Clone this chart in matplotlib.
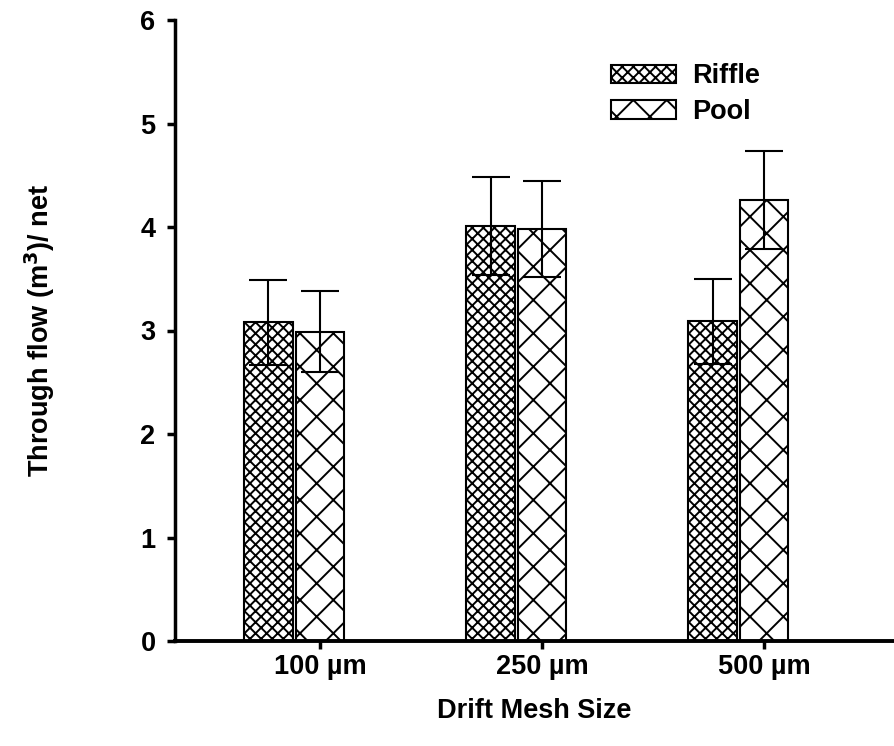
import numpy as np
import matplotlib
matplotlib.use('Agg')
import matplotlib.pyplot as plt

# data
mesh = ['100 µm', '250 µm', '500 µm']
riffle = [3.08, 4.01, 3.09]
riffle_err = [0.41, 0.47, 0.41]
pool = [2.99, 3.98, 4.26]
pool_err = [0.39, 0.46, 0.47]

plt.rcParams['font.family'] = ['Liberation Sans', 'DejaVu Sans']
plt.rcParams['font.weight'] = 'bold'
plt.rcParams['hatch.linewidth'] = 1.4

fig = plt.figure(figsize=(8.94, 7.46), dpi=100)
ax = fig.add_axes([175/894, 105/746, 1 - 175/894, (641 - 20)/746])

x = np.arange(len(mesh))
w = 0.217
off = 0.232

ax.bar(x - off, riffle, w, color='white', edgecolor='black', linewidth=1.5,
       hatch='xxx', label='Riffle', zorder=2)
ax.bar(x, pool, w, color='white', edgecolor='black', linewidth=1.5,
       hatch='x', label='Pool', zorder=2)
ax.errorbar(x - off, riffle, yerr=riffle_err, fmt='none', ecolor='black',
            elinewidth=1.5, capsize=13.5, capthick=1.5, zorder=3)
ax.errorbar(x, pool, yerr=pool_err, fmt='none', ecolor='black',
            elinewidth=1.5, capsize=13.5, capthick=1.5, zorder=3)

ax.set_xlim(-0.653, 2.585)
ax.set_ylim(0, 6)
ax.set_xticks(x)
ax.set_xticklabels(mesh)
ax.set_yticks(range(7))

for s in ['top', 'right']:
    ax.spines[s].set_visible(False)
ax.spines['left'].set_linewidth(2.5)
ax.spines['bottom'].set_linewidth(2.8)
ax.tick_params(axis='both', width=2.5, length=6, labelsize=19.5)
ax.tick_params(axis='x', pad=3)
ax.tick_params(axis='y', pad=8)

ax.set_xlabel('Drift Mesh Size', fontsize=19.5, fontweight='bold', labelpad=13)
ax.set_ylabel('Through flow (m$^\\mathbf{3}$)/ net', fontsize=19.5,
              fontweight='bold', labelpad=60)

ax.legend(loc='upper left', bbox_to_anchor=(0.606, 0.93), frameon=False,
          fontsize=19.5, handlelength=2.4, handleheight=0.7,
          handletextpad=0.6, labelspacing=0.36, borderpad=0, borderaxespad=0)

fig.savefig('out.png', dpi=100)
